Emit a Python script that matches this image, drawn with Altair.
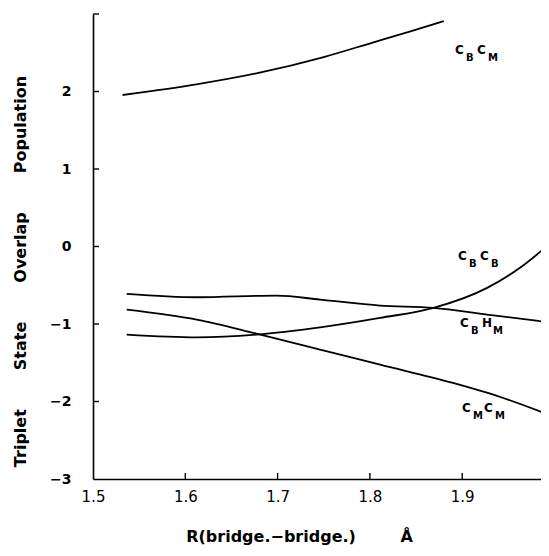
import altair as alt
import pandas as pd

# ---- data ----
x_cbcm = [1.532, 1.612, 1.677, 1.751, 1.803, 1.843, 1.880]
y_cbcm = [1.955, 2.093, 2.235, 2.448, 2.632, 2.774, 2.907]

x_cbhm = [1.5365, 1.6124, 1.699, 1.746, 1.811, 1.869, 1.927, 1.994]
y_cbhm = [-0.611, -0.655, -0.633, -0.685, -0.762, -0.792, -0.879, -0.978]

x_cmcm = [1.5365, 1.6124, 1.677, 1.746, 1.811, 1.890, 1.9445, 1.994]
y_cmcm = [-0.814, -0.943, -1.124, -1.331, -1.525, -1.761, -1.955, -2.171]

x_cbcb = [1.5365, 1.6124, 1.677, 1.746, 1.811, 1.869, 1.927, 1.9626, 1.994]
y_cbcb = [-1.137, -1.172, -1.137, -1.043, -0.921, -0.792, -0.534, -0.275, 0.026]

x_ticks = [1.5, 1.6, 1.7, 1.8, 1.9]
y_ticks = [-3, -2, -1, 0, 1, 2]
y_tick_marks = [-2, -1, 0, 1, 2, 3]
x_tick_marks = [1.6, 1.7, 1.8, 1.9]

# curve labels: anchor (data coords) and letters
lab_x = [1.8922, 1.8955, 1.8976, 1.8998]
lab_y = [2.48, -0.168, -1.04, -2.13]
lab_m1 = ["C", "C", "C", "C"]
lab_s1 = ["B", "B", "B", "M"]
lab_m2 = ["C", "C", "H", "C"]
lab_s2 = ["M", "B", "M", "M"]

x_title = "R(bridge.\u2212bridge.)" + "\u00a0" * 8 + "Å"
y_title = ("\u00a0" * 7).join(["Triplet", "State", "Overlap", "Population"])

# ---- tables ----
rows = []
for name, xs, ys in [("CBCM", x_cbcm, y_cbcm), ("CBHM", x_cbhm, y_cbhm),
                     ("CMCM", x_cmcm, y_cmcm), ("CBCB", x_cbcb, y_cbcb)]:
    for a, b in zip(xs, ys):
        rows.append({"series": name, "x": a, "y": b})
df = pd.DataFrame(rows)
labels = pd.DataFrame({"x": lab_x, "y": lab_y, "m1": lab_m1, "s1": lab_s1,
                       "m2": lab_m2, "s2": lab_s2})

FONT = "DejaVu Sans"
W, H = 448, 465
xscale = alt.Scale(domain=[1.5, 1.5 + W / 923.0], nice=False, zero=False)
yscale = alt.Scale(domain=[-3, 3], nice=False, zero=False)

xaxis = alt.Axis(values=x_ticks, format=".1f", ticks=False, grid=False,
                 domainColor="black", domainWidth=1.6, labelFont=FONT,
                 labelFontSize=15, labelColor="black", labelPadding=10,
                 labelFlush=False, title=x_title, titleFont=FONT,
                 titleFontSize=16, titleFontWeight="bold", titleColor="black",
                 titleX=206, titleY=57, titleAlign="center",
                 titleBaseline="middle")
yaxis = alt.Axis(values=y_ticks, format="d", ticks=False, grid=False,
                 domainColor="black", domainWidth=1.6, labelFont=FONT,
                 labelFontSize=14, labelFontWeight="bold", labelColor="black",
                 labelPadding=22, title=y_title, titleFont=FONT,
                 titleFontSize=16, titleFontWeight="bold", titleColor="black",
                 titleX=-73, titleY=257, titleAngle=270, titleAlign="center",
                 titleBaseline="middle")

lines = alt.Chart(df).mark_line(color="black", strokeWidth=1.8,
                                interpolate="monotone", clip=True).encode(
    x=alt.X("x:Q", scale=xscale, axis=xaxis),
    y=alt.Y("y:Q", scale=yscale, axis=yaxis),
    detail="series:N",
    order="x:Q",
)

yt = alt.Chart(pd.DataFrame({"v": y_tick_marks})).mark_rule(
    color="black", strokeWidth=1.4).encode(
    y=alt.Y("v:Q", scale=yscale, axis=yaxis),
    x=alt.value(0), x2=alt.value(6))
xt = alt.Chart(pd.DataFrame({"v": x_tick_marks})).mark_rule(
    color="black", strokeWidth=1.4).encode(
    x=alt.X("v:Q", scale=xscale, axis=xaxis),
    y=alt.value(H), y2=alt.value(H - 6))

def part(field, dx, dy, size):
    return alt.Chart(labels).mark_text(
        align="left", baseline="alphabetic", font=FONT, fontWeight="bold",
        fontSize=size, color="black", dx=dx, dy=dy).encode(
        x=alt.X("x:Q", scale=xscale, axis=xaxis),
        y=alt.Y("y:Q", scale=yscale, axis=yaxis),
        text=f"{field}:N")

chart = alt.layer(
    lines, yt, xt,
    part("m1", 0, 0, 12), part("s1", 11, 7, 10),
    part("m2", 22, 0, 12), part("s2", 33, 7, 10),
).properties(
    width=W, height=H,
    autosize=alt.AutoSizeParams(type="none"),
    padding={"left": 85, "top": 6, "right": 0, "bottom": 68},
    background="white",
).configure_view(stroke=None)

chart.save("out.html", embed_options={"renderer": "svg", "actions": False})
